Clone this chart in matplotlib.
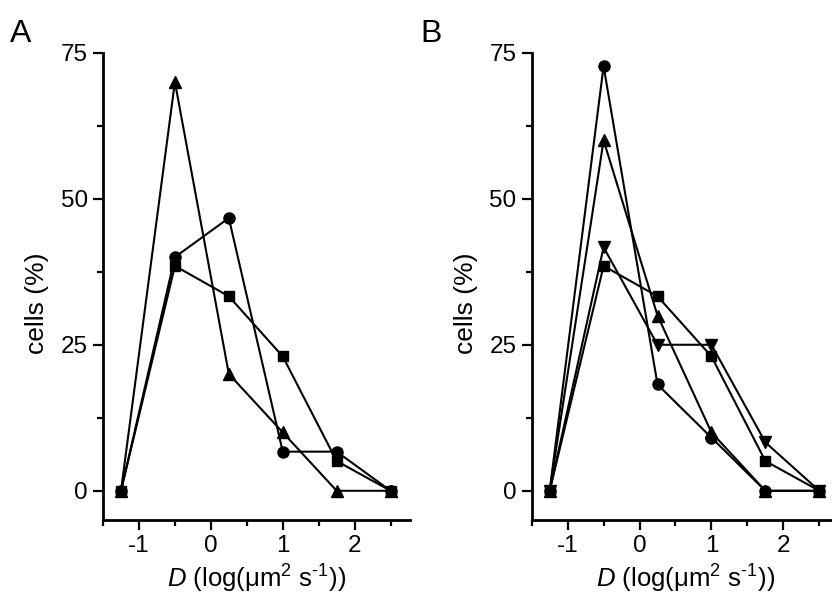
import matplotlib
matplotlib.use("Agg")
from matplotlib import pyplot as plt
from matplotlib.ticker import MultipleLocator

plt.rcParams['font.family'] = ['Liberation Sans', 'DejaVu Sans']
plt.rcParams['mathtext.fontset'] = 'custom'
plt.rcParams['mathtext.rm'] = 'Liberation Sans'
plt.rcParams['mathtext.it'] = 'Liberation Sans:italic'
plt.rcParams['axes.unicode_minus'] = False

# log D bin centres
logD = [-1.25, -0.5, 0.25, 1.0, 1.75, 2.5]

# panel A
a_circle = [0, 40.0, 46.7, 6.7, 6.7, 0]
a_square = [0, 38.5, 33.3, 23.0, 5.1, 0]
a_triangle = [0, 70.0, 20.0, 10.0, 0, 0]

# panel B
b_circle = [0, 72.7, 18.2, 9.1, 0, 0]
b_triangle = [0, 60.0, 30.0, 10.0, 0, 0]
b_tridown = [0, 41.7, 25.0, 25.0, 8.3, 0]
b_square = [0, 38.5, 33.3, 23.0, 5.1, 0]

W, H = 832, 596
fig = plt.figure(figsize=(W / 100, H / 100), dpi=100)


def make_axes(left_px):
    ax = fig.add_axes([left_px / W, 1 - 520 / H, 307 / W, (520 - 52.7) / H])
    ax.set_xlim(-1.5, 2.77)
    ax.set_ylim(-5, 75)
    for s in ['top', 'right']:
        ax.spines[s].set_visible(False)
    for s in ['left', 'bottom']:
        ax.spines[s].set_linewidth(2.0)
    ax.xaxis.set_major_locator(MultipleLocator(1))
    ax.xaxis.set_minor_locator(MultipleLocator(0.5))
    ax.yaxis.set_major_locator(MultipleLocator(25))
    ax.yaxis.set_minor_locator(MultipleLocator(12.5))
    ax.tick_params(which='major', direction='out', length=7, width=1.6, labelsize=17.5, pad=4)
    ax.tick_params(which='minor', direction='out', length=4, width=1.6)
    ax.set_ylabel("cells (%)", fontsize=19)
    ax.yaxis.set_label_coords(-0.176, 0.464)
    ax.set_xlabel("$\\mathit{D}$ (log(\u03bcm$^{2}$ s$^{\u20101}$))", fontsize=18.5)
    ax.xaxis.set_label_coords(0.5, -0.092)
    return ax


style = dict(color='black', linewidth=1.5)

axA = make_axes(103)
axA.plot(logD, a_circle, marker='o', markersize=8, **style)
axA.plot(logD, a_square, marker='s', markersize=7, **style)
axA.plot(logD, a_triangle, marker='^', markersize=8.5, **style)
fig.text(10 / W, 1 - 42 / H, "A", fontsize=23)

axB = make_axes(531.7)
axB.plot(logD, b_circle, marker='o', markersize=8, **style)
axB.plot(logD, b_triangle, marker='^', markersize=8.5, **style)
axB.plot(logD, b_tridown, marker='v', markersize=8.5, **style)
axB.plot(logD, b_square, marker='s', markersize=7, **style)
fig.text(420 / W, 1 - 42 / H, "B", fontsize=23)

plt.savefig("out.png", dpi=100)
